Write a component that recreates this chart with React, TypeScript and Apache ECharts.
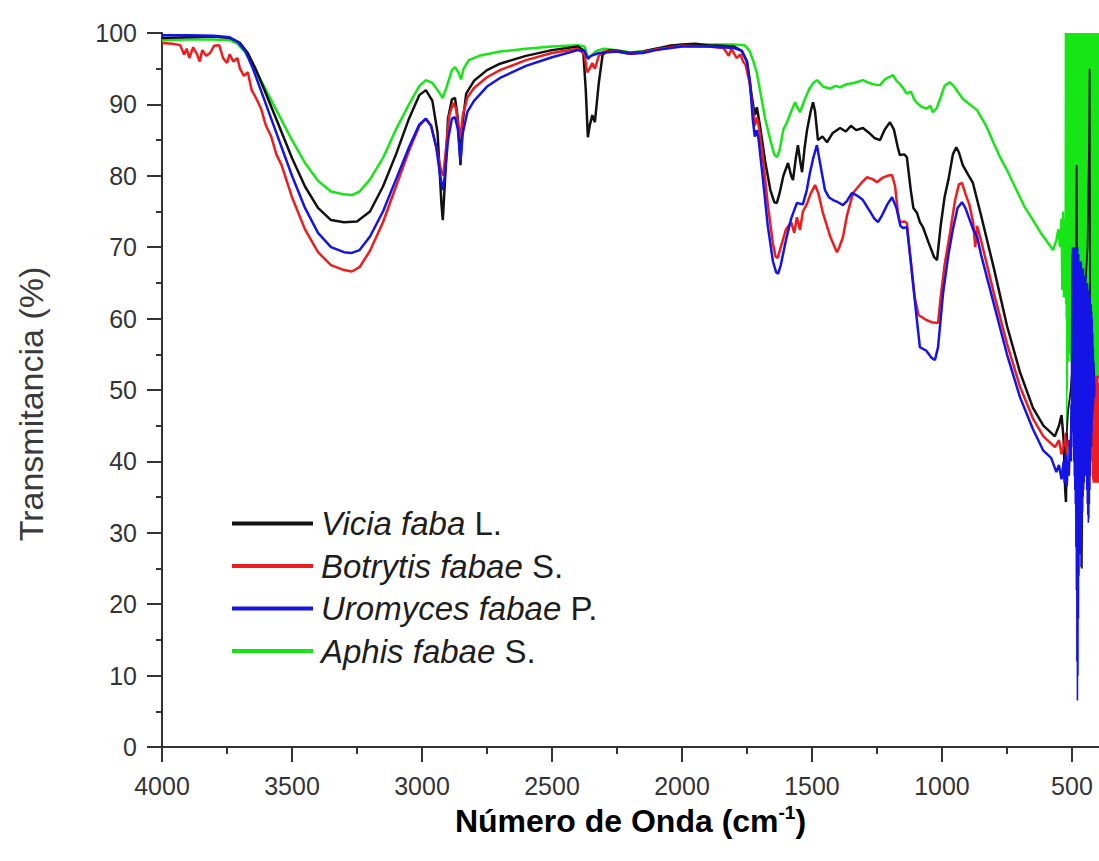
import React, { useEffect, useRef } from "react";
import * as echarts from "echarts";

type Pt = [number, number];

// Wavenumber (cm-1), Transmittance (%)
const viciaFaba: Pt[] = [
  [4000, 99.3], [3900, 99.4], [3800, 99.5], [3740, 99.3], [3700, 98.6], [3670, 97.2], [3640, 95], [3600, 91.5],
  [3550, 87], [3500, 82.5], [3450, 78.5], [3400, 75.5], [3350, 73.8], [3300, 73.5], [3250, 73.6], [3200, 75],
  [3150, 78.5], [3100, 83], [3050, 88], [3010, 91.3], [2985, 92], [2960, 90.5], [2940, 86], [2925, 76],
  [2920, 73.8], [2912, 79], [2900, 88], [2885, 90.7], [2873, 90.9], [2862, 88], [2852, 81.5], [2845, 87],
  [2830, 91.5], [2800, 93.3], [2750, 94.8], [2700, 95.7], [2600, 96.8], [2500, 97.6], [2400, 98.1], [2380, 97.6],
  [2370, 92], [2362, 85.4], [2355, 87], [2345, 88.5], [2335, 87.5], [2320, 93], [2305, 97], [2280, 97.6],
  [2250, 97.5], [2200, 97.2], [2150, 97.4], [2100, 97.8], [2050, 98.2], [2000, 98.4], [1950, 98.5], [1900, 98.3],
  [1850, 98.2], [1800, 98.1], [1770, 97.5], [1750, 96], [1735, 92], [1720, 88.5], [1712, 89.6], [1700, 87],
  [1680, 82], [1660, 78], [1645, 76.3], [1635, 76.2], [1625, 77.5], [1610, 80], [1592, 81.8], [1580, 80],
  [1573, 79.4], [1562, 82.5], [1554, 84.3], [1545, 82], [1538, 80.5], [1528, 84], [1519, 86.4], [1505, 89],
  [1496, 90.3], [1488, 89], [1477, 85], [1460, 85.5], [1442, 84.7], [1420, 86], [1392, 86.7], [1370, 86.2],
  [1350, 87], [1330, 86.4], [1304, 86.7], [1280, 86], [1260, 85.3], [1238, 85], [1220, 86.5], [1200, 87.5],
  [1185, 86.5], [1170, 84], [1162, 82.9], [1145, 83], [1135, 82.6], [1120, 78], [1110, 75.5], [1096, 74.8],
  [1085, 73.5], [1073, 72.8], [1050, 70.5], [1030, 68.6], [1019, 68.2], [1005, 73], [990, 77], [975, 79.5],
  [958, 83], [945, 84], [935, 83.3], [920, 81.5], [900, 80.2], [881, 79], [850, 74.5], [800, 67], [750, 59],
  [700, 52.5], [650, 47.5], [610, 45], [580, 44], [566, 43.5], [550, 45], [540, 46.5], [532, 43], [526, 36],
  [523, 34.3], [520, 44],
];
const viciaFabaTail: Pt[] = [
  [515, 47], [505, 50], [495, 55], [486, 62], [482, 81.5], [479, 45], [474, 40], [466, 60], [462, 25],
  [458, 55], [448, 65], [440, 70], [434, 85], [432, 95], [430, 50], [420, 55], [410, 50], [400, 52],
];

const botrytisFabae: Pt[] = [
  [4000, 98.6], [3960, 98.5], [3930, 98.3], [3915, 97], [3905, 97.8], [3895, 96.5], [3880, 98], [3865, 97],
  [3855, 96], [3845, 97.6], [3830, 96.8], [3815, 97.2], [3800, 98.2], [3780, 98.3], [3765, 96.5], [3750, 95.8],
  [3740, 97], [3725, 96], [3710, 96.5], [3700, 95], [3685, 94], [3670, 94.5], [3655, 92], [3640, 91],
  [3620, 89.5], [3600, 87], [3580, 85.5], [3560, 83], [3540, 81.5], [3500, 77], [3450, 72.5], [3400, 69.3],
  [3350, 67.5], [3300, 66.8], [3270, 66.6], [3240, 67.2], [3200, 69.5], [3150, 73.5], [3100, 78.5], [3050, 83.5],
  [3010, 87], [2985, 88], [2965, 87], [2945, 84], [2925, 80.5], [2918, 80], [2910, 83], [2895, 88.5],
  [2880, 90.2], [2870, 89.5], [2860, 87], [2852, 85.5], [2843, 88.5], [2825, 91], [2800, 92.3], [2750, 93.8],
  [2700, 94.8], [2600, 96.2], [2500, 97.2], [2400, 97.8], [2375, 97], [2365, 94.5], [2355, 95], [2345, 95.8],
  [2335, 95], [2320, 96.8], [2300, 97.4], [2250, 97.4], [2200, 97.1], [2150, 97.3], [2100, 97.7], [2000, 98.2],
  [1900, 98.1], [1840, 97.9], [1820, 96.8], [1810, 97.8], [1790, 96.5], [1775, 97], [1765, 96], [1755, 95.5],
  [1740, 93], [1730, 90], [1720, 87], [1712, 88.2], [1705, 87], [1690, 83], [1670, 76], [1650, 70.5],
  [1640, 68.7], [1632, 68.5], [1620, 70], [1600, 72.5], [1580, 73.5], [1568, 72], [1558, 74.2], [1546, 72.4],
  [1535, 75], [1520, 76], [1505, 77.5], [1488, 78.7], [1475, 77.5], [1458, 74.8], [1430, 71.5], [1404, 69.3],
  [1395, 70], [1381, 71.4], [1365, 74.5], [1342, 77.6], [1310, 79], [1288, 79.8], [1265, 79.5], [1250, 79.1],
  [1230, 79.7], [1210, 80], [1192, 80.1], [1180, 78.5], [1170, 75], [1162, 73.5], [1145, 73.6], [1135, 73.4],
  [1120, 68], [1105, 63], [1090, 60.5], [1060, 59.8], [1040, 59.5], [1015, 59.4], [1005, 63], [990, 67.5],
  [969, 72], [950, 76.5], [935, 78.8], [923, 79], [910, 77.5], [895, 76], [880, 73.5], [872, 70], [865, 73],
  [850, 71], [800, 63.5], [750, 56.5], [700, 50.5], [650, 46], [610, 43.5], [580, 42.5], [565, 42], [550, 43],
  [540, 41], [530, 42.5],
];
const botrytisFabaeTail: Pt[] = [
  [525, 44], [520, 40], [515, 43], [510, 42], [500, 45], [490, 44], [480, 46], [470, 45], [460, 47], [450, 46],
  [440, 48], [430, 47], [422, 49], [421, 52], [420, 37.5], [419, 51], [418, 37], [417, 52], [416, 37.2],
  [415, 51], [414, 37], [413, 52], [412, 37.5], [411, 51], [410, 37], [409, 52], [408, 37.2], [407, 51],
  [406, 37], [405, 52], [404, 37.5], [403, 51], [402, 37], [401, 52], [400, 37.2], [399, 51], [398, 37],
  [397, 50], [396, 38],
];

const uromycesFabae: Pt[] = [
  [4000, 99.7], [3900, 99.7], [3800, 99.6], [3740, 99.4], [3710, 98.8], [3680, 97.5], [3650, 95], [3600, 90],
  [3550, 85], [3500, 80], [3450, 75.5], [3400, 72], [3350, 70], [3300, 69.3], [3270, 69.2], [3240, 69.6],
  [3200, 71.5], [3150, 75], [3100, 79.5], [3050, 84], [3010, 87.2], [2985, 88], [2965, 87], [2945, 84],
  [2930, 80], [2920, 78], [2912, 80], [2900, 85], [2885, 88], [2873, 88.2], [2862, 86.5], [2852, 82],
  [2843, 86], [2825, 89], [2800, 90.5], [2750, 92.5], [2700, 93.7], [2600, 95.4], [2500, 96.6], [2400, 97.6],
  [2375, 97.5], [2362, 96.4], [2350, 96.8], [2320, 97.2], [2250, 97.4], [2200, 97.1], [2150, 97.2], [2100, 97.6],
  [2000, 98.1], [1900, 98.1], [1800, 97.9], [1770, 97.5], [1750, 96], [1738, 93], [1728, 88], [1720, 85.5],
  [1712, 86.4], [1705, 85], [1690, 80], [1670, 73], [1650, 68], [1638, 66.5], [1630, 66.3], [1620, 67.5],
  [1600, 71], [1580, 74], [1558, 76.2], [1535, 76], [1520, 78], [1508, 80.4], [1495, 82.5], [1481, 84.3],
  [1470, 82], [1450, 78], [1435, 77], [1419, 76.6], [1400, 76.3], [1381, 75.9], [1365, 76.5], [1346, 77.6],
  [1325, 77.2], [1304, 76.6], [1280, 75.2], [1260, 74], [1246, 73.5], [1230, 74.5], [1210, 76], [1192, 77],
  [1175, 75.5], [1160, 73], [1150, 72.7], [1135, 72.8], [1120, 68], [1100, 61], [1085, 56], [1060, 55.5],
  [1040, 54.5], [1027, 54.2], [1015, 56], [996, 63.5], [975, 69], [958, 72.5], [940, 75.5], [923, 76.3],
  [910, 75.5], [895, 74], [880, 72.5], [865, 71.5], [850, 69], [800, 62], [750, 55], [700, 49], [650, 44.5],
  [610, 41.5], [580, 40.5], [560, 38.5], [550, 39.5], [540, 37.5], [532, 40], [528, 37], [524, 41],
  [520, 36.5], [516, 40], [512, 38], [508, 43], [504, 40], [502, 48],
];
const uromycesFabaeTail: Pt[] = [
  [500, 69], [499, 46], [498, 70], [497, 44], [496, 69], [495, 42], [494, 70], [493, 40], [492, 69], [491, 38],
  [490, 70], [489, 36], [488, 69], [487, 34], [486, 70], [485, 28], [484, 69], [483, 22], [482, 70], [481, 12],
  [480, 69], [479, 6.5], [478, 70], [477, 10], [476, 69], [475, 18], [474, 69], [473, 24], [472, 68], [471, 28],
  [470, 68], [469, 30], [468, 68], [467, 27], [466, 68], [465, 25.2], [464, 68], [463, 28], [462, 67], [461, 31],
  [460, 67], [459, 33], [458, 67], [457, 35], [456, 67], [455, 36], [454, 66], [453, 37], [452, 66], [451, 38],
  [450, 66], [449, 39], [448, 66], [447, 40], [446, 65], [445, 38], [444, 65], [443, 36], [442, 65], [441, 34],
  [440, 65], [439, 32.5], [438, 64], [437, 31.4], [436, 64], [435, 32], [434, 64], [433, 34], [432, 63], [431, 36],
  [430, 63], [429, 38], [428, 62], [427, 40], [426, 62], [425, 42], [424, 61], [423, 44], [422, 60], [421, 46],
  [420, 58], [419, 47], [418, 56], [417, 48], [416, 54], [415, 49], [414, 52], [413, 49], [412, 51],
];

const aphisFabae: Pt[] = [
  [4000, 99], [3900, 99.1], [3800, 99.1], [3740, 99], [3710, 98.5], [3680, 97.3], [3650, 95.5], [3600, 92],
  [3550, 88.5], [3500, 85], [3450, 81.8], [3400, 79.3], [3350, 77.8], [3300, 77.4], [3270, 77.3], [3240, 77.8],
  [3200, 79.5], [3150, 82.5], [3100, 86.5], [3050, 90], [3010, 92.6], [2985, 93.4], [2960, 93], [2940, 92],
  [2920, 90.9], [2905, 92.5], [2885, 94.8], [2873, 95.2], [2860, 94.5], [2850, 93.5], [2840, 95], [2820, 96.2],
  [2780, 96.8], [2700, 97.4], [2600, 97.8], [2500, 98.1], [2400, 98.3], [2375, 98.1], [2362, 96.6], [2350, 96.8],
  [2330, 97.5], [2300, 97.8], [2250, 97.6], [2200, 97.3], [2150, 97.4], [2100, 97.8], [2000, 98.3], [1900, 98.4],
  [1800, 98.4], [1760, 98.3], [1740, 97.5], [1725, 96], [1712, 94.4], [1700, 92], [1680, 88], [1660, 85],
  [1645, 83], [1635, 82.6], [1625, 83.5], [1610, 86.5], [1596, 87.5], [1580, 89], [1565, 90.3], [1555, 89.5],
  [1546, 88.9], [1530, 90.5], [1510, 92.2], [1495, 93], [1481, 93.4], [1470, 93], [1458, 92.5], [1430, 92.2],
  [1410, 92.6], [1392, 92.4], [1370, 92.8], [1340, 93], [1320, 93.2], [1304, 93.4], [1280, 93], [1260, 92.8],
  [1238, 92.7], [1220, 93.5], [1205, 93.8], [1188, 94.1], [1175, 93.3], [1160, 92.8], [1150, 92.3], [1135, 91.5],
  [1120, 91.8], [1105, 90.6], [1096, 90.2], [1080, 89.7], [1060, 89.4], [1045, 89.8], [1035, 88.9], [1020, 89.5],
  [1005, 91], [990, 92.6], [970, 93.1], [955, 92.6], [940, 91.8], [920, 90.8], [900, 90.2], [865, 89.2],
  [830, 87], [800, 84.5], [775, 82.5], [750, 80.8], [720, 78.5], [700, 77], [680, 75.5], [650, 73.8],
  [620, 72], [600, 71], [573, 69.6], [560, 71], [552, 72.5], [546, 70], [540, 74], [537, 64], [534, 75],
  [531, 63], [528, 74], [526, 64],
];
const aphisFabaeTail: Pt[] = [
  [525, 100], [524, 62], [523, 100], [522, 60], [521, 100], [520, 45], [519, 100], [518, 50], [517, 100],
  [516, 56], [515, 100], [514, 54], [513, 100], [512, 57], [511, 100], [510, 55], [509, 100], [508, 58],
  [507, 100], [506, 56], [505, 100], [504, 54], [503, 100], [502, 57], [501, 100], [500, 55], [499, 100],
  [498, 58], [497, 100], [496, 56], [495, 100], [494, 54], [493, 100], [492, 57], [491, 100], [490, 55],
  [489, 100], [488, 56], [487, 100], [486, 54], [485, 100], [484, 57], [483, 100], [482, 55], [481, 100],
  [480, 53], [479, 100], [478, 56], [477, 100], [476, 54], [475, 100], [474, 52], [473, 100], [472, 55],
  [471, 100], [470, 53], [469, 100], [468, 52], [467, 100], [466, 54], [465, 100], [464, 51], [463, 100],
  [462, 53], [461, 100], [460, 52], [459, 100], [458, 54], [457, 100], [456, 52], [455, 100], [454, 53],
  [453, 100], [452, 51], [451, 100], [450, 54], [449, 100], [448, 52], [447, 100], [446, 53], [445, 100],
  [444, 51], [443, 100], [442, 54], [441, 100], [440, 52], [439, 100], [438, 53], [437, 100], [436, 51],
  [435, 100], [434, 54], [433, 100], [432, 52], [431, 100], [430, 53], [429, 100], [428, 51], [427, 100],
  [426, 54], [425, 100], [424, 52], [423, 100], [422, 53], [421, 100], [420, 51], [419, 100], [418, 53],
  [417, 100], [416, 52], [415, 100], [414, 54], [413, 100], [412, 52], [411, 100], [410, 53], [409, 100],
  [408, 51], [407, 100], [406, 53], [405, 100], [404, 52], [403, 100], [402, 54], [401, 100], [400, 52],
  [399, 100], [398, 53], [397, 100], [396, 52],
];

const seriesNames = ["Vicia faba L.", "Botrytis fabae S.", "Uromyces fabae P.", "Aphis fabae S."];
const seriesColors = ["#111111", "#ee1c1c", "#1414e6", "#16e616"];
const xTickValues = [500, 1000, 1500, 2000, 2500, 3000, 3500, 4000];
const xMinorTickValues = [750, 1250, 1750, 2250, 2750, 3250, 3750];
const yAxisTitle = "Transmitancia (%)";

const FONT = "'Liberation Sans', Arial, Helvetica, sans-serif";

export default function App() {
  const ref = useRef<HTMLDivElement>(null);

  useEffect(() => {
    if (!ref.current) return;
    const chart = echarts.init(ref.current, undefined, { renderer: "svg" });

    const mains: Pt[][] = [viciaFaba, botrytisFabae, uromycesFabae, aphisFabae];
    const tails: Pt[][] = [viciaFabaTail, botrytisFabaeTail, uromycesFabaeTail, aphisFabaeTail];
    // draw order: green below, then black, red, blue on top
    const drawOrder = [3, 0, 1, 2];

    const xCommon = {
      type: "value" as const,
      min: 396,
      max: 4000,
      inverse: true,
      position: "bottom" as const,
      splitLine: { show: false },
    };

    const series: any[] = [];
    drawOrder.forEach((k, idx) => {
      const main = mains[k];
      series.push({
        name: seriesNames[k],
        type: "line",
        data: main,
        showSymbol: false,
        symbol: "none",
        color: seriesColors[k],
        lineStyle: { color: seriesColors[k], width: 2.5 },
        emphasis: { disabled: true },
        z: 2 + idx,
      });
      series.push({
        name: seriesNames[k],
        type: "line",
        data: [main[main.length - 1]].concat(tails[k]),
        showSymbol: false,
        symbol: "none",
        color: seriesColors[k],
        lineStyle: { color: seriesColors[k], width: k === 0 ? 1.8 : 1.6 },
        emphasis: { disabled: true },
        z: 2 + idx,
      });
    });

    chart.setOption({
      animation: false,
      backgroundColor: "#ffffff",
      grid: { left: 162, right: 0, top: 33, bottom: 114, containLabel: false },
      legend: {
        data: seriesNames,
        orient: "vertical",
        left: 227,
        top: 502,
        itemWidth: 81,
        itemHeight: 4,
        itemGap: 9.5,
        icon: "rect",
        selectedMode: false,
        formatter: (name: string) => {
          const i = name.lastIndexOf(" ");
          return `{i|${name.slice(0, i)}} {n|${name.slice(i + 1)}}`;
        },
        textStyle: {
          fontFamily: FONT,
          fontSize: 33,
          color: "#1e1e1e",
          rich: {
            i: { fontFamily: FONT, fontSize: 33, fontStyle: "italic", color: "#1e1e1e", lineHeight: 34, padding: [0, 0, 0, 3] },
            n: { fontFamily: FONT, fontSize: 33, color: "#1e1e1e", lineHeight: 34 },
          },
        },
      },
      graphic: [
        {
          type: "text",
          x: 31,
          y: 404,
          rotation: Math.PI / 2,
          style: {
            text: yAxisTitle,
            fontFamily: FONT,
            fontSize: 34,
            fill: "#3a3a3a",
            align: "center",
            verticalAlign: "middle",
          },
        },
      ],
      xAxis: [
        {
          ...xCommon,
          name: "{b|Número de Onda (cm}{s|-1}{b|)}",
          nameLocation: "middle",
          nameGap: 55,
          nameTextStyle: {
            rich: {
              b: { fontFamily: FONT, fontSize: 32, fontWeight: "bold", color: "#000", lineHeight: 36 },
              s: { fontFamily: FONT, fontSize: 19, fontWeight: "bold", color: "#000", lineHeight: 18, verticalAlign: "top" },
            },
          },
          axisLine: { show: true, onZero: false, lineStyle: { color: "#333", width: 2 } },
          axisTick: { show: true, inside: false, length: 15, customValues: xTickValues, lineStyle: { color: "#333", width: 2 } },
          axisLabel: {
            show: true,
            customValues: xTickValues,
            margin: 26,
            fontFamily: FONT,
            fontSize: 25,
            color: "#333",
            formatter: (v: number) => String(v),
          },
        },
        {
          ...xCommon,
          axisLine: { show: false, onZero: false },
          axisTick: { show: true, inside: false, length: 7, customValues: xMinorTickValues, lineStyle: { color: "#333", width: 2 } },
          axisLabel: { show: false },
        },
      ],
      yAxis: {
        type: "value",
        min: 0,
        max: 100,
        interval: 10,
        splitLine: { show: false },
        axisLine: { show: true, onZero: false, lineStyle: { color: "#333", width: 2 } },
        axisTick: { show: true, inside: false, length: 15, lineStyle: { color: "#333", width: 2 } },
        minorTick: { show: true, splitNumber: 2, length: 6, lineStyle: { color: "#333", width: 2 } },
        axisLabel: { margin: 25, fontFamily: FONT, fontSize: 25, color: "#333", formatter: (v: number) => String(v) },
      },
      series,
    });

    return () => chart.dispose();
  }, []);

  return (
    <div
      ref={ref}
      style={{ position: "fixed", left: 0, top: 0, width: 1099, height: 861, background: "#fff" }}
    />
  );
}
